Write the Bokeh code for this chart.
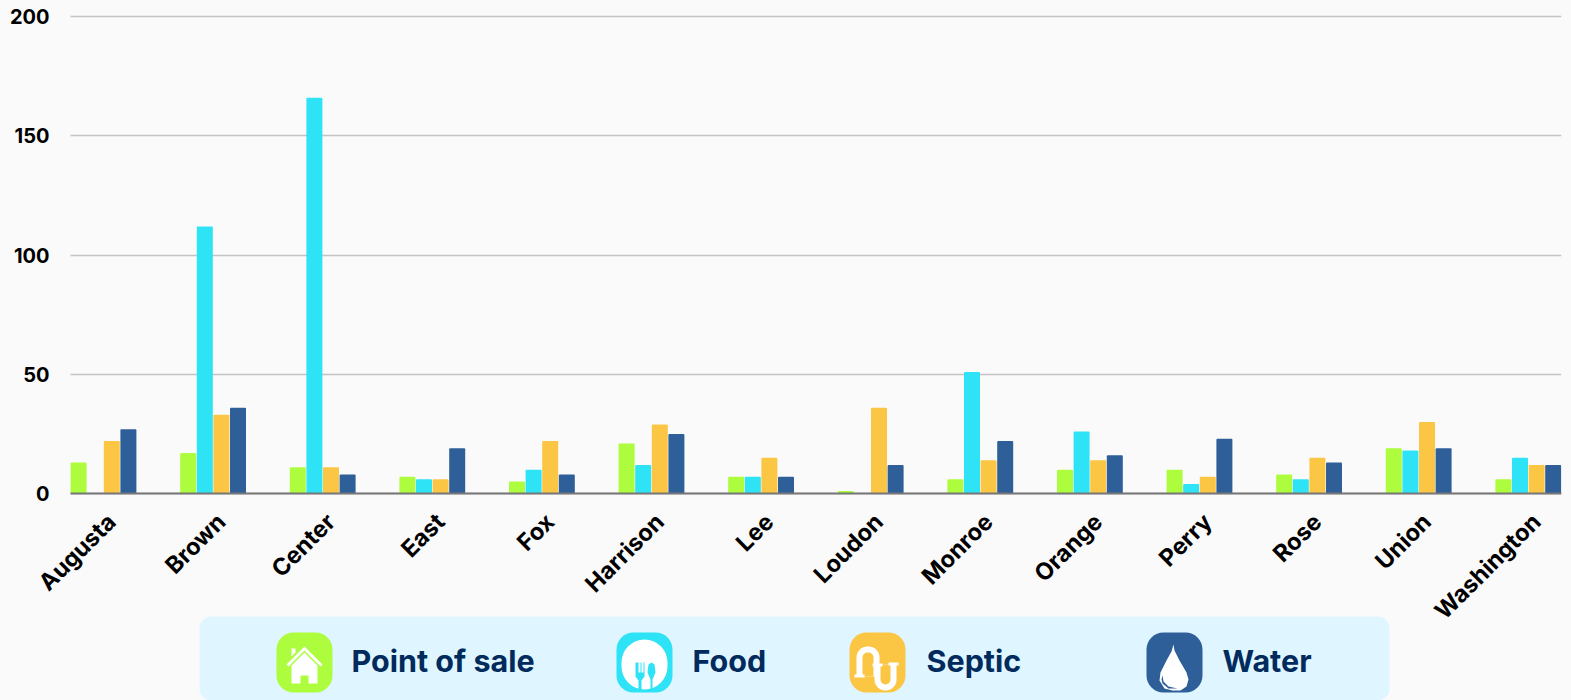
from bokeh.plotting import figure
from bokeh.embed import file_html
from bokeh.resources import INLINE
from bokeh.models import Range1d, FixedTicker, BoxAnnotation, PolyAnnotation, Label

categories = ["Augusta","Brown","Center","East","Fox","Harrison","Lee","Loudon","Monroe","Orange","Perry","Rose","Union","Washington"]
point_of_sale = [13,17,11,7,5,21,7,1,6,10,10,8,19,6]
food = [0,112,166,6,10,12,7,0,51,26,4,6,18,15]
septic = [22,33,11,6,22,29,15,36,14,14,7,15,30,12]
water = [27,36,8,19,8,25,7,12,22,16,23,13,19,12]
y_ticks = [0,50,100,150,200]
series_names = ["Point of sale","Food","Septic","Water"]
colors = ["#ADFC3E","#2DE3F5","#FCC645","#2E5F99"]

FONT = "Inter"
W, H = 1571, 700
AXIS_LEFT, TOP, RIGHT = 70, 0, 10
BAND = 109.6
x0 = -33 / BAND                      # data x at the chart's left edge
x_start = x0 - AXIS_LEFT / BAND      # the frame spans the whole canvas width
x1 = x0 + (W - AXIS_LEFT - RIGHT) / BAND
PX_PER_UNIT = 2.3835
ZERO_PX = 493
y_start = -(H - ZERO_PX) / PX_PER_UNIT
y_end = (ZERO_PX - TOP) / PX_PER_UNIT
p = figure(width=W, height=H, output_backend="svg", toolbar_location=None,
           x_range=Range1d(x_start, x1), y_range=Range1d(y_start, y_end),
           min_border_left=0, min_border_right=RIGHT, min_border_top=TOP, min_border_bottom=0,
           background_fill_color="#FAFAFA", border_fill_color="#FAFAFA", outline_line_color=None)

xs = list(range(len(categories)))
step = 16.6 / BAND
for k, (vals, color) in enumerate(zip([point_of_sale, food, septic, water], colors)):
    off = (k - 1.5) * step
    p.vbar(x=[v + off for v in xs], top=vals, width=16 / BAND, bottom=0,
           fill_color=color, line_color=None, border_radius=1)

p.xgrid.visible = False
g = p.ygrid[0]
if "cross_bounds" in g.properties():
    g.ticker = FixedTicker(ticks=y_ticks)
    g.grid_line_color = "#C4C4C4"
    g.grid_line_width = 1.5
    g.cross_bounds = (x0, x1)
else:
    g.visible = False
    p.segment(x0=[x0] * len(y_ticks), x1=[x1] * len(y_ticks), y0=y_ticks, y1=y_ticks,
              line_color="#C4C4C4", line_width=1.5, level="underlay")

ya = p.yaxis[0]
ya.fixed_location = x0
ya.ticker = FixedTicker(ticks=y_ticks)
ya.axis_line_color = None
ya.major_tick_line_color = None
ya.minor_tick_line_color = None
ya.major_label_text_font = FONT
ya.major_label_text_font_style = "bold"
ya.major_label_text_font_size = "20px"
ya.major_label_text_color = "#000000"
ya.major_label_standoff = 15

LABEL_SHIFT = 8 / BAND
p.extra_x_ranges["labels"] = Range1d(x_start - LABEL_SHIFT, x1 - LABEL_SHIFT)
xa = p.xaxis[0]
xa.x_range_name = "labels"
xa.fixed_location = 0
xa.bounds = (x0 - LABEL_SHIFT, x1 - LABEL_SHIFT)
xa.ticker = FixedTicker(ticks=xs)
xa.major_label_overrides = {i: c for i, c in enumerate(categories)}
xa.major_label_orientation = 0.785
xa.axis_line_color = "#777777"
xa.axis_line_width = 2
xa.major_tick_line_color = None
xa.minor_tick_line_color = None
xa.major_label_text_font = FONT
xa.major_label_text_font_style = "bold"
xa.major_label_text_font_size = "23.5px"
xa.major_label_text_color = "#000000"
xa.major_label_standoff = 18

def box(l, t, r, b, color, radius=0):
    p.add_layout(BoxAnnotation(left=l, right=r, top=t, bottom=b,
                               left_units="canvas", right_units="canvas", top_units="canvas", bottom_units="canvas",
                               fill_color=color, fill_alpha=1, line_color=None, border_radius=radius))

def poly(pts, color):
    p.add_layout(PolyAnnotation(xs=[a for a, _ in pts], ys=[b for _, b in pts],
                                xs_units="canvas", ys_units="canvas",
                                fill_color=color, fill_alpha=1, line_color=None))

box(199, 616, 1389, 700, "#DFF5FF", 12)
icons = [276, 616, 849, 1146]
label_x = [351, 692, 926, 1222]
for ix, lx, c, name in zip(icons, label_x, colors, series_names):
    box(ix, 632, ix + 56, 692, c, 17)
    p.add_layout(Label(x=lx, y=660, x_units="canvas", y_units="canvas", text=name,
                       text_font=FONT, text_font_style="bold", text_font_size="30.5px",
                       text_color="#002B5C", text_baseline="middle"))

W_ = "#FFFFFF"
hx = icons[0]
poly([(hx+28,646),(hx+46,664),(hx+44,666),(hx+28,650),(hx+12,666),(hx+10,664)], W_)
poly([(hx+28,652),(hx+41,665),(hx+41,683),(hx+32,683),(hx+32,675),(hx+24,675),(hx+24,683),(hx+15,683),(hx+15,665)], W_)
poly([(hx+15,648),(hx+19,648),(hx+19,652),(hx+15,656)], W_)
fx = icons[1]
box(fx+5, 639, fx+51, 689, W_, 23)
poly([(fx+21,662),(fx+22,662),(fx+22,672),(fx+24,672),(fx+24,662),(fx+25,662),(fx+25,672),(fx+27,672),(fx+27,662),(fx+28,662),(fx+28,676),(fx+25,680),(fx+25,690),(fx+22,690),(fx+22,680),(fx+19,676),(fx+19,662)], colors[1])
poly([(fx+35,662),(fx+38,664),(fx+39,672),(fx+36,679),(fx+36,690),(fx+34,690),(fx+34,679),(fx+31,672),(fx+32,664)], colors[1])
sx = icons[2]
sc = colors[2]
box(sx+7, 646, sx+30, 676, W_, (11, 11, 0, 0))
box(sx+13, 652, sx+24, 676, sc, (5, 5, 0, 0))
box(sx+25, 664, sx+47, 690, W_, (0, 0, 11, 11))
box(sx+31, 664, sx+41, 684, sc, (0, 0, 5, 5))
box(sx+5, 674, sx+15, 677, W_)
box(sx+23, 663, sx+33, 666, W_)
box(sx+39, 662, sx+49, 665, W_)
wx = icons[3]
poly([(wx+27,644),(wx+28,650),(wx+33,660),(wx+40,672),(wx+42,679),(wx+40,686),(wx+34,690),(wx+26,690),(wx+18,688),(wx+13,680),(wx+14,672),(wx+20,660),(wx+25,651)], W_)
poly([(wx+16,675),(wx+17,681),(wx+22,686),(wx+31,688),(wx+22,688),(wx+16,683),(wx+15,679)], colors[3])

html = file_html(p, INLINE).replace("<head>", "<head><style>html,body{background:#FAFAFA}</style>", 1)
open("out.html", "w").write(html)
